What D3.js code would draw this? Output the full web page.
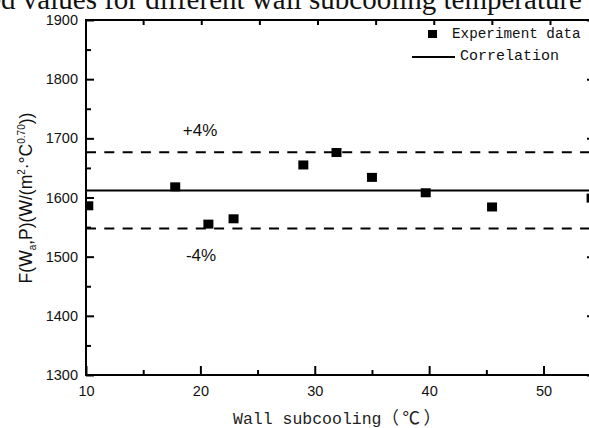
<!DOCTYPE html>
<html>
<head>
<meta charset="utf-8">
<script src="https://cdn.jsdelivr.net/npm/d3@7/dist/d3.min.js"></script>
<style>
  html, body { margin: 0; padding: 0; background: #fff; }
  svg { display: block; }
</style>
</head>
<body>
<div id="chart"></div>
<script>
// Wall subcooling (°C) and measured F(Wa,P) for each test run
const subcooling = [10.2, 17.8, 20.7, 22.9, 29.0, 31.9, 35.0, 39.7, 45.5, 54.2];
const measured   = [1586, 1618, 1555, 1564, 1655, 1676, 1634, 1608, 1584, 1599];

// Correlation value and its ±4% band
const correlation = 1612;
const bandPct = [4, -4];

const xTicks = [10, 20, 30, 40, 50];
const xMinor = [15, 25, 35, 45];
const yTicks = [1300, 1400, 1500, 1600, 1700, 1800, 1900];
const yMinor = [1350, 1450, 1550, 1650, 1750, 1850];
const topTicks = [15, 20, 25, 30, 35, 40, 45, 50];

const W = 589, H = 428;
const frame = { left: 86, right: 595, top: 20, bottom: 375 };

const svg = d3.select("#chart").append("svg")
  .attr("width", W).attr("height", H);

const x = d3.scaleLinear().domain([10, 54.5]).range([frame.left, frame.right]);
const xTop = d3.scaleLinear().domain([10, 50]).range([85, 550]);
const y = d3.scaleLinear().domain([1300, 1900]).range([frame.bottom, frame.top]);

const tickFont = "'Liberation Sans', Arial, sans-serif";
const monoFont = "'Liberation Mono', 'Noto Sans CJK SC', monospace";
const cjkFont = "'Noto Sans CJK SC', sans-serif";

// Title line above the frame
svg.append("text")
  .attr("x", 582).attr("y", 9)
  .attr("text-anchor", "end")
  .attr("font-family", "'Liberation Serif', 'Times New Roman', serif")
  .attr("font-size", 29)
  .attr("fill", "#111")
  .text("Calculated values for different wall subcooling temperature");

svg.append("defs").append("clipPath").attr("id", "plot")
  .append("rect")
  .attr("x", frame.left).attr("y", frame.top)
  .attr("width", frame.right - frame.left).attr("height", frame.bottom - frame.top);

const plot = svg.append("g").attr("clip-path", "url(#plot)");

// Correlation line
plot.append("line")
  .attr("x1", frame.left).attr("x2", frame.right)
  .attr("y1", y(correlation)).attr("y2", y(correlation))
  .attr("stroke", "#000").attr("stroke-width", 2);

// ±4% dashed lines
plot.selectAll("line.band").data(bandPct).join("line")
  .attr("class", "band")
  .attr("x1", frame.left).attr("x2", frame.right)
  .attr("y1", d => y(correlation * (1 + d / 100)))
  .attr("y2", d => y(correlation * (1 + d / 100)))
  .attr("stroke", "#000").attr("stroke-width", 2)
  .attr("stroke-dasharray", "10,8.3");

// Experiment points
const sqW = 10, sqH = 9;
plot.selectAll("rect.pt").data(subcooling).join("rect")
  .attr("class", "pt")
  .attr("x", d => x(d) - sqW / 2)
  .attr("y", (d, i) => y(measured[i]) - sqH / 2)
  .attr("width", sqW).attr("height", sqH)
  .attr("fill", "#000");

// Band labels
svg.append("text")
  .attr("x", 200).attr("y", 136)
  .attr("text-anchor", "middle")
  .attr("font-family", tickFont).attr("font-size", 17).attr("fill", "#111")
  .text("+" + bandPct[0] + "%");
svg.append("text")
  .attr("x", 201).attr("y", 261)
  .attr("text-anchor", "middle")
  .attr("font-family", tickFont).attr("font-size", 17).attr("fill", "#111")
  .text(bandPct[1] + "%");

// Axes
function styleAxis(g) {
  g.selectAll("path.domain").remove();
  g.selectAll(".tick line").attr("stroke", "#000").attr("stroke-width", 2);
  g.selectAll(".tick text").attr("font-family", tickFont).attr("font-size", 14.5).attr("fill", "#111");
}

svg.append("g").attr("transform", `translate(0,${frame.bottom})`)
  .call(d3.axisBottom(x).tickValues(xTicks).tickSize(-9).tickPadding(11).tickFormat(d3.format("d")))
  .call(styleAxis);
svg.append("g").attr("transform", `translate(0,${frame.bottom})`)
  .call(d3.axisBottom(x).tickValues(xMinor).tickSize(-5).tickFormat(""))
  .call(styleAxis);

svg.append("g").attr("transform", `translate(${frame.left},0)`)
  .call(d3.axisLeft(y).tickValues(yTicks).tickSize(-8).tickPadding(8).tickFormat(d3.format("d")))
  .call(styleAxis);
svg.append("g").attr("transform", `translate(${frame.left},0)`)
  .call(d3.axisLeft(y).tickValues(yMinor).tickSize(-5).tickFormat(""))
  .call(styleAxis);

svg.append("g").attr("transform", `translate(${frame.right},0)`)
  .call(d3.axisRight(y).tickValues(yTicks).tickSize(-8).tickFormat(""))
  .call(styleAxis);

svg.append("g").attr("transform", `translate(0,${frame.top})`)
  .call(d3.axisTop(xTop).tickValues(topTicks).tickSize(-5).tickFormat(""))
  .call(styleAxis);

// Frame
svg.append("rect")
  .attr("x", frame.left).attr("y", frame.top)
  .attr("width", frame.right - frame.left).attr("height", frame.bottom - frame.top)
  .attr("fill", "none").attr("stroke", "#000").attr("stroke-width", 2);

// Axis titles
const xTitle = svg.append("text")
  .attr("x", 233).attr("y", 424)
  .attr("font-family", monoFont).attr("font-size", 16.5).attr("fill", "#222");
xTitle.append("tspan").text("Wall subcooling");
xTitle.append("tspan").attr("font-family", cjkFont).attr("font-size", 17.5)
  .attr("letter-spacing", 3.5).text("（℃）");

const yTitle = svg.append("text")
  .attr("transform", "translate(32,198) rotate(-90)")
  .attr("text-anchor", "middle")
  .attr("font-family", tickFont).attr("font-size", 17.5).attr("fill", "#111");
yTitle.append("tspan").text("F(W");
yTitle.append("tspan").attr("font-size", 10).attr("dy", 4).text("a");
yTitle.append("tspan").attr("dy", -4).text(",P)(W/(m");
yTitle.append("tspan").attr("font-size", 10).attr("dy", -7).text("2");
yTitle.append("tspan").attr("dy", 7).text("·°C");
yTitle.append("tspan").attr("font-size", 10).attr("dy", -7).text("0.70");
yTitle.append("tspan").attr("dy", 7).text("))");

// Legend
const leg = svg.append("g");
leg.append("rect")
  .attr("x", 428).attr("y", 30).attr("width", 9).attr("height", 8).attr("fill", "#000");
leg.append("text")
  .attr("x", 452).attr("y", 38)
  .attr("font-family", monoFont).attr("font-size", 14.3).attr("fill", "#111")
  .text("Experiment data");
leg.append("line")
  .attr("x1", 412).attr("x2", 455).attr("y1", 57).attr("y2", 57)
  .attr("stroke", "#000").attr("stroke-width", 2);
leg.append("text")
  .attr("x", 460).attr("y", 60)
  .attr("font-family", monoFont).attr("font-size", 15).attr("fill", "#111")
  .text("Correlation");
</script>
</body>
</html>
